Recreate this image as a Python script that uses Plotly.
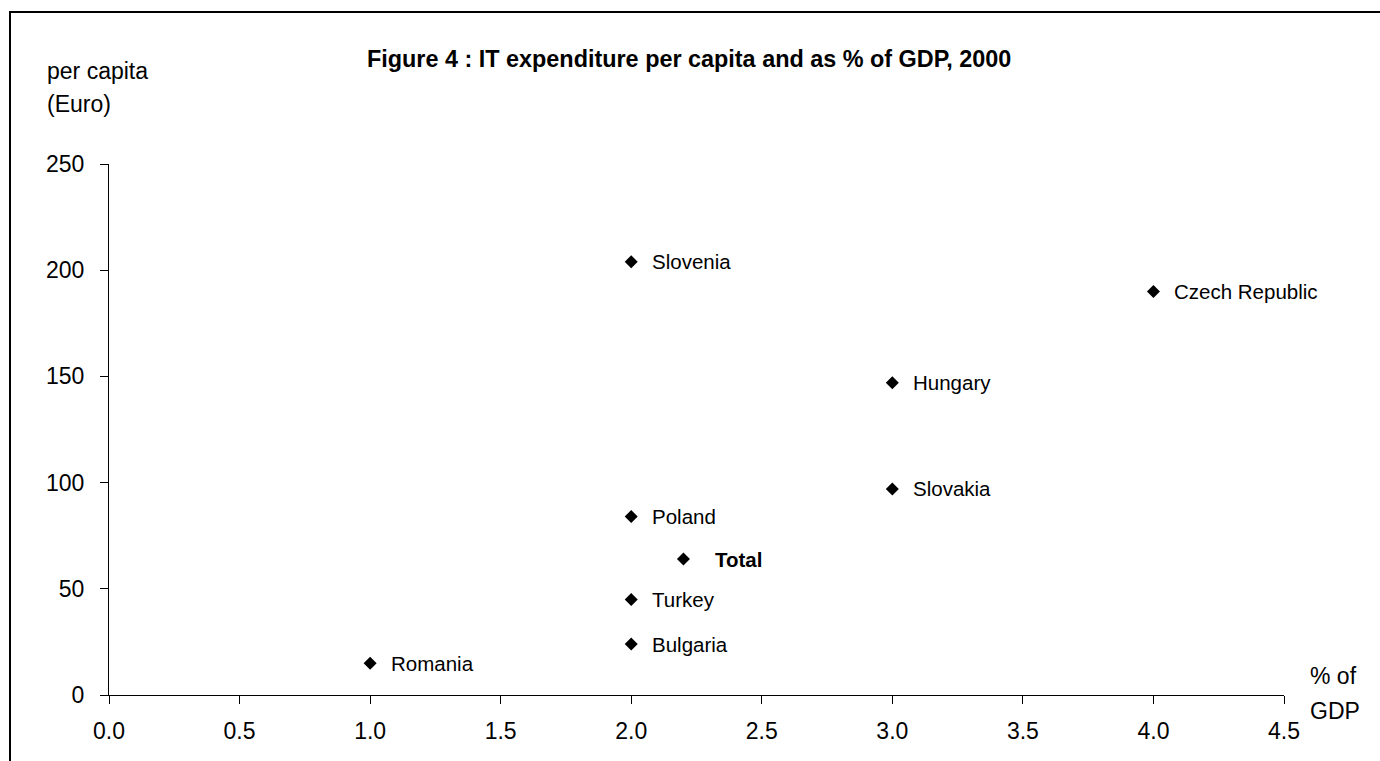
import plotly.graph_objects as go

countries = ["Romania", "Bulgaria", "Turkey", "Total", "Poland", "Slovakia", "Hungary", "Slovenia", "Czech Republic"]
gdp_pct = [1.0, 2.0, 2.0, 2.2, 2.0, 3.0, 3.0, 2.0, 4.0]
per_capita = [15, 24, 45, 64, 84, 97, 147, 204, 190]

x_ticks = [0.0, 0.5, 1.0, 1.5, 2.0, 2.5, 3.0, 3.5, 4.0, 4.5]
y_ticks = [0, 50, 100, 150, 200, 250]

FONT = "Liberation Sans, Arial, sans-serif"

# plot area in pixels
L, R, T, B = 109, 1284, 164, 695
W, H = R - L, B - T


def px(x):
    return (x - L) / W


def py(y):
    return (B - y) / H


fig = go.Figure()
fig.add_trace(go.Scatter(
    x=gdp_pct, y=per_capita, mode="markers",
    marker=dict(symbol="diamond", size=10, color="black"),
    hoverinfo="skip", showlegend=False, cliponaxis=False,
))

for c, x, y in zip(countries, gdp_pct, per_capita):
    bold = c == "Total"
    fig.add_annotation(
        x=x, y=y, xref="x", yref="y",
        text=f"<b>{c}</b>" if bold else c,
        showarrow=False, xanchor="left", yanchor="middle",
        xshift=30 if bold else 19,
        font=dict(family=FONT, size=20.5, color="black"),
    )

fig.add_annotation(
    xref="paper", yref="paper", x=px(365), y=py(59),
    text="<b>Figure 4 : IT expenditure per capita and as % of GDP, 2000</b>",
    showarrow=False, xanchor="left", yanchor="middle",
    font=dict(family=FONT, size=23.4, color="black"),
)
for txt, yy in [("per capita", 71), ("(Euro)", 104)]:
    fig.add_annotation(
        xref="paper", yref="paper", x=px(45), y=py(yy),
        text=txt, showarrow=False, xanchor="left", yanchor="middle",
        font=dict(family=FONT, size=23, color="black"),
    )
for txt, yy in [("% of", 676), ("GDP", 711)]:
    fig.add_annotation(
        xref="paper", yref="paper", x=px(1308), y=py(yy),
        text=txt, showarrow=False, xanchor="left", yanchor="middle",
        font=dict(family=FONT, size=23, color="black"),
    )

# outer frame
fig.add_shape(
    type="rect", xref="paper", yref="paper",
    x0=px(10), x1=1.3, y0=-0.3, y1=py(12),
    line=dict(color="black", width=2), fillcolor="rgba(0,0,0,0)", layer="below",
)

fig.update_xaxes(
    range=[0, 4.5], tickvals=x_ticks, ticktext=[f"{v:.1f}" for v in x_ticks],
    showline=True, linecolor="black", linewidth=1,
    ticks="outside", ticklen=8, tickcolor="black",
    showgrid=False, zeroline=False, ticklabelstandoff=7,
    tickfont=dict(family=FONT, size=23, color="black"),
)
fig.update_yaxes(
    range=[0, 250], tickvals=y_ticks,
    showline=True, linecolor="black", linewidth=1,
    ticks="outside", ticklen=8, tickcolor="black",
    showgrid=False, zeroline=False, ticklabelstandoff=11,
    tickfont=dict(family=FONT, size=23, color="black"),
)

fig.update_layout(
    width=1380, height=761,
    margin=dict(l=L, r=1380 - R, t=T, b=761 - B),
    plot_bgcolor="white", paper_bgcolor="white",
    font=dict(family=FONT, color="black"),
)

fig.write_html("out.html")
